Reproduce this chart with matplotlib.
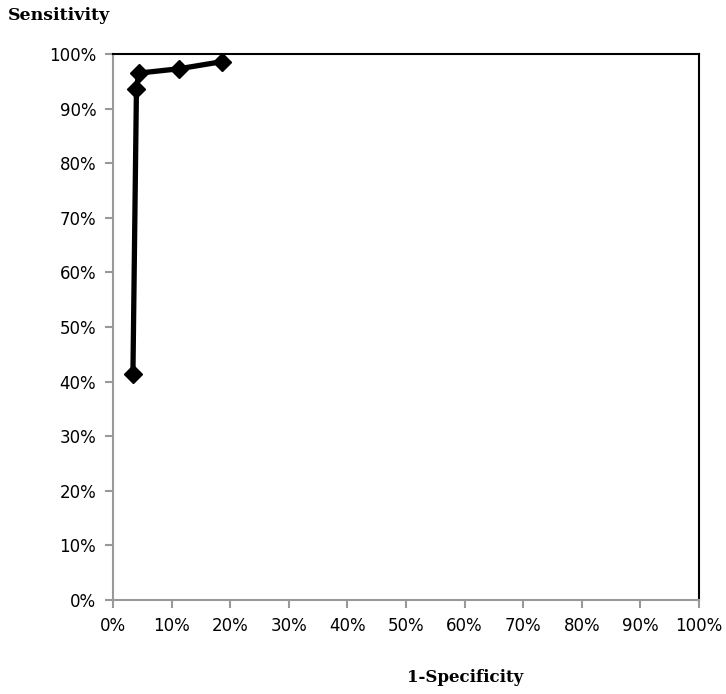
import matplotlib
matplotlib.use("Agg")
import matplotlib.pyplot as plt
from matplotlib.ticker import FuncFormatter

fpr = [3.4, 4.0, 4.4, 11.3, 18.6]
tpr = [41.4, 93.6, 96.5, 97.3, 98.6]
ticks = list(range(0, 101, 10))

fig = plt.figure(figsize=(7.26, 6.94), dpi=100)
ax = fig.add_axes([113/726, 1-600/694, 586/726, 546/694])

ax.plot(fpr, tpr, color="black", lw=3.8, marker="D", markersize=9, solid_joinstyle="round")

ax.set_xlim(0, 100)
ax.set_ylim(0, 100)
ax.set_xticks(ticks)
ax.set_yticks(ticks)
fmt = FuncFormatter(lambda v, p: f"{int(v)}%")
ax.xaxis.set_major_formatter(fmt)
ax.yaxis.set_major_formatter(fmt)
for s in ["left", "bottom"]:
    ax.spines[s].set_color("#999999")
    ax.spines[s].set_linewidth(1.5)
for s in ["top", "right"]:
    ax.spines[s].set_color("black")
    ax.spines[s].set_linewidth(1.5)
ax.tick_params(axis="both", direction="out", length=6, width=1.5, color="#999999",
               labelsize=12, labelcolor="black", pad=6)

fig.text(8/726, 1-16/694, "Sensitivity", fontfamily="DejaVu Serif", fontweight="bold",
         fontsize=12.5, ha="left", va="center")
fig.text(465/726, 1-678/694, "1-Specificity", fontfamily="DejaVu Serif", fontweight="bold",
         fontsize=12, ha="center", va="center")

fig.savefig("out.png", dpi=100)
